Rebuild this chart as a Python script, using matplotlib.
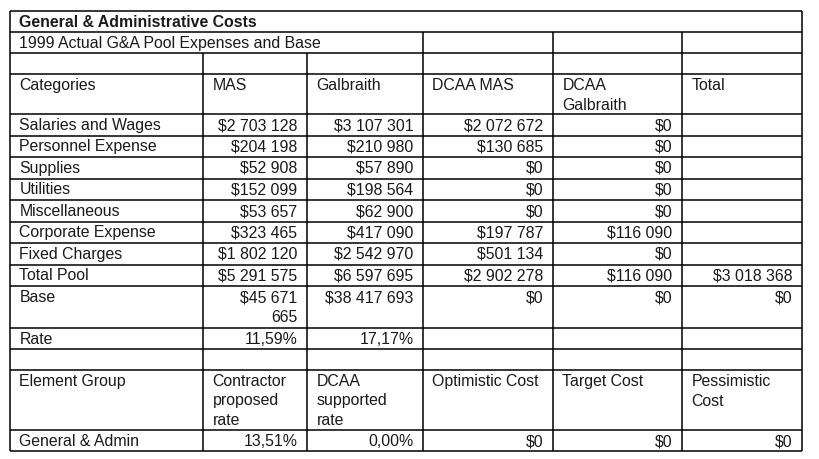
import matplotlib
matplotlib.use("Agg")
import matplotlib.pyplot as plt

# ---------- data ----------
title = "General & Administrative Costs"
subtitle = "1999 Actual G&A Pool Expenses and Base"
headers = ["Categories", "MAS", "Galbraith", "DCAA MAS", "DCAA\nGalbraith", "Total"]
categories = ["Salaries and Wages", "Personnel Expense", "Supplies", "Utilities",
              "Miscellaneous", "Corporate Expense", "Fixed Charges", "Total Pool", "Base"]
mas = [2703128, 204198, 52908, 152099, 53657, 323465, 1802120, 5291575, 45671665]
galbraith = [3107301, 210980, 57890, 198564, 62900, 417090, 2542970, 6597695, 38417693]
dcaa_mas = [2072672, 130685, 0, 0, 0, 197787, 501134, 2902278, 0]
dcaa_galbraith = [0, 0, 0, 0, 0, 116090, 0, 116090, 0]
total = [None, None, None, None, None, None, None, 3018368, 0]
rate_label = "Rate"
rates = [11.59, 17.17]

elem_headers = ["Element Group", "Contractor\nproposed\nrate", "DCAA\nsupported\nrate",
                "Optimistic Cost", "Target Cost", "Pessimistic\nCost"]
elem_group = "General & Admin"
elem_rates = [13.51, 0.00]
elem_costs = [0, 0, 0]

# ---------- layout (pixels) ----------
W, H = 820, 459
cols = [10, 203, 307, 423, 553, 682, 802]
rows = [11, 32, 53, 74, 114, 135.5, 157, 178.5, 200, 221.5, 243, 264.5, 286, 328,
        349, 370, 430, 451]
FS = 11.4
LINE = 19.5
PAD = 9.5
TXT = "#1a1a1a"


def money(v):
    if v is None:
        return ""
    return "$" + f"{v:,}".replace(",", " ")


def pct(v):
    return f"{v:.2f}%".replace(".", ",")


def wrap_money(s, maxch):
    # the narrow MAS column wraps long amounts onto a second line
    if len(s) > maxch and " " in s:
        i = s.rfind(" ")
        return s[:i] + "\n" + s[i + 1:]
    return s


fig = plt.figure(figsize=(W / 100, H / 100), dpi=100)
ax = fig.add_axes([0, 0, 1, 1])
ax.set_xlim(0, W)
ax.set_ylim(H, 0)
ax.axis("off")
plt.rcParams["font.family"] = ["Liberation Sans", "DejaVu Sans"]


def cell(text, r, c, align="left", bold=False):
    if not text:
        return
    x = cols[c] + PAD if align == "left" else cols[c + 1] - PAD
    for i, line in enumerate(text.split("\n")):
        ax.text(x, rows[r] + 11.5 + i * LINE, line, ha=align, va="center",
                fontsize=FS, color=TXT, fontweight="bold" if bold else "normal")


# grid lines
lw = 1.1
ax.hlines(rows, cols[0], cols[-1], color="black", lw=lw)
ax.vlines([cols[0], cols[-1]], rows[0], rows[-1], color="black", lw=lw)
ax.vlines(cols[3:-1], rows[1], rows[-1], color="black", lw=lw)
ax.vlines(cols[1:3], rows[2], rows[-1], color="black", lw=lw)

cell(title, 0, 0, bold=True)
cell(subtitle, 1, 0)
for c, h in enumerate(headers):
    cell(h, 3, c)

for i, cat in enumerate(categories):
    r = 4 + i
    cell(cat, r, 0)
    cell(wrap_money(money(mas[i]), 10), r, 1, "right")
    cell(money(galbraith[i]), r, 2, "right")
    cell(money(dcaa_mas[i]), r, 3, "right")
    cell(money(dcaa_galbraith[i]), r, 4, "right")
    cell(money(total[i]), r, 5, "right")

r_rate = 4 + len(categories)
cell(rate_label, r_rate, 0)
for j, v in enumerate(rates):
    cell(pct(v), r_rate, 1 + j, "right")

for c, h in enumerate(elem_headers):
    cell(h, r_rate + 2, c)
r_el = r_rate + 3
cell(elem_group, r_el, 0)
for j, v in enumerate(elem_rates):
    cell(pct(v), r_el, 1 + j, "right")
for j, v in enumerate(elem_costs):
    cell(money(v), r_el, 3 + j, "right")

fig.savefig("out.png", dpi=100, facecolor="white")
